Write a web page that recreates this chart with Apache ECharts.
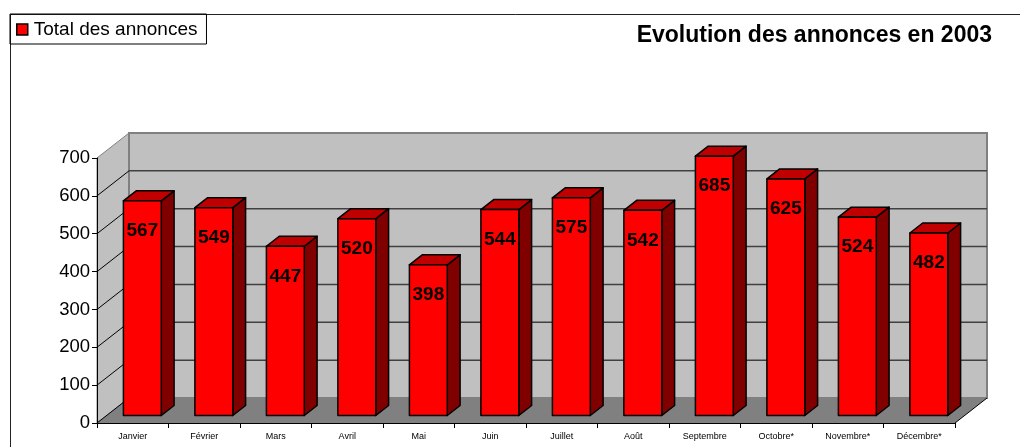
<!DOCTYPE html>
<html>
<head>
<meta charset="utf-8">
<script src="https://cdn.jsdelivr.net/npm/echarts@6/dist/echarts.min.js"></script>
<style>
  html, body { margin: 0; padding: 0; background: #fff; }
  #chart { width: 1020px; height: 447px; }
</style>
</head>
<body>
<div id="chart"></div>
<script>
// données
var categories = ['Janvier', 'Février', 'Mars', 'Avril', 'Mai', 'Juin', 'Juillet', 'Août', 'Septembre', 'Octobre*', 'Novembre*', 'Décembre*'];
var totals = [567, 549, 447, 520, 398, 544, 575, 542, 685, 625, 524, 482];
var yTicks = [0, 100, 200, 300, 400, 500, 600, 700];

var FONT = 'Liberation Sans, Arial, sans-serif';
// profondeur de la boite 3D (px)
var DX = 32, DY = 25;
// position de la barre dans la profondeur
var F1 = 0.3, F2 = 0.7;

var chart = echarts.init(document.getElementById('chart'));

// murs + sol + lignes de grille
function renderWalls(params, api) {
	var cs = params.coordSys;
	var L = cs.x, R = cs.x + cs.width, T = cs.y, B = cs.y + cs.height;
	var children = [];
	// mur gauche
	children.push({ type: 'polygon', shape: { points: [[L, B], [L, T], [L + DX, T - DY], [L + DX, B - DY]] },
		style: { fill: '#c0c0c0', stroke: '#808080', lineWidth: 1 } });
	// mur du fond
	children.push({ type: 'rect', shape: { x: L + DX, y: T - DY, width: R - L, height: B - T },
		style: { fill: '#c0c0c0', stroke: '#808080', lineWidth: 2 } });
	// lignes
	for (var i = 1; i < yTicks.length - 1; i++) {
		var y = api.coord([0, yTicks[i]])[1];
		children.push({ type: 'line', shape: { x1: L + DX, y1: y - DY, x2: R + DX, y2: y - DY },
			style: { stroke: '#404040', lineWidth: 1.5 } });
		children.push({ type: 'line', shape: { x1: L, y1: y, x2: L + DX, y2: y - DY },
			style: { stroke: '#000', lineWidth: 1 } });
	}
	// sol
	children.push({ type: 'polygon', shape: { points: [[L, B], [R, B], [R + DX, B - DY], [L + DX, B - DY]] },
		style: { fill: '#808080' } });
	children.push({ type: 'line', shape: { x1: R, y1: B, x2: R + DX, y2: B - DY },
		style: { stroke: '#000', lineWidth: 1 } });
	children.push({ type: 'line', shape: { x1: L, y1: B, x2: L + DX, y2: B - DY },
		style: { stroke: '#000', lineWidth: 1 } });
	return { type: 'group', children: children };
}

function renderBar(params, api) {
	var idx = api.value(0);
	var val = api.value(1);
	var base = api.coord([idx, 0]);
	var top = api.coord([idx, val]);
	var cw = api.size([1, 0])[0];
	var bw = cw * 0.53;
	var x0 = base[0] - bw / 2 + F1 * DX;
	var x1 = x0 + bw;
	var yb = base[1] - F1 * DY;
	var yt = top[1] - F1 * DY;
	var dx = (F2 - F1) * DX, dy = (F2 - F1) * DY;
	var line = { stroke: '#000', lineWidth: 1.5, lineJoin: 'round' };
	return {
		type: 'group',
		children: [
			{ type: 'polygon', shape: { points: [[x1, yt], [x1 + dx, yt - dy], [x1 + dx, yb - dy], [x1, yb]] },
				style: Object.assign({ fill: '#800000' }, line) },
			{ type: 'polygon', shape: { points: [[x0, yt], [x1, yt], [x1 + dx, yt - dy], [x0 + dx, yt - dy]] },
				style: Object.assign({ fill: '#c00000' }, line) },
			{ type: 'rect', shape: { x: x0, y: yt, width: bw, height: yb - yt },
				style: Object.assign({ fill: '#ff0000' }, line) },
			{ type: 'text', x: (x0 + x1) / 2, y: yt + 30,
				style: { text: String(val), fill: '#000', font: 'bold 19px ' + FONT, align: 'center', verticalAlign: 'middle' } }
		]
	};
}

var option = {
	animation: false,
	title: {
		text: 'Evolution des annonces en 2003',
		right: 28,
		top: 24,
		padding: 0,
		textStyle: { fontFamily: FONT, fontSize: 23, fontWeight: 'bold', color: '#000' }
	},
	legend: {
		left: 10,
		top: 14,
		padding: [6, 9, 5, 6],
		borderColor: '#000',
		borderWidth: 1,
		icon: 'rect',
		itemWidth: 11,
		itemHeight: 11,
		itemGap: 0,
		textStyle: { fontFamily: FONT, fontSize: 19, color: '#000', padding: [0, 0, 0, 1] },
		data: [{ name: 'Total des annonces', itemStyle: { color: '#ff0000', borderColor: '#000', borderWidth: 1.5 } }]
	},
	graphic: [{
		type: 'rect',
		shape: { x: 10.5, y: 14.5, width: 1030, height: 460 },
		style: { fill: 'none', stroke: '#222', lineWidth: 1 },
		silent: true, z: -10
	}],
	grid: { left: 97, right: 65, top: 158, bottom: 24 },
	xAxis: {
		type: 'category',
		data: categories,
		axisLine: { lineStyle: { color: '#000', width: 1 } },
		axisTick: { show: true, length: 5, lineStyle: { color: '#000' } },
		axisLabel: { fontFamily: FONT, fontSize: 9, color: '#000', margin: 9, interval: 0 },
		z: 5
	},
	yAxis: {
		type: 'value',
		min: 0,
		max: 700,
		interval: 100,
		axisLine: { show: true, lineStyle: { color: '#000', width: 1 } },
		axisTick: { show: true, length: 5, lineStyle: { color: '#000' } },
		axisLabel: { fontFamily: FONT, fontSize: 18.5, color: '#000', margin: 7 },
		splitLine: { show: false },
		z: 5
	},
	series: [
		{
			type: 'custom',
			name: 'walls',
			renderItem: renderWalls,
			data: [[0, 0]],
			silent: true,
			z: 1
		},
		{
			type: 'custom',
			name: 'Total des annonces',
			renderItem: renderBar,
			itemStyle: { color: '#ff0000' },
			data: totals.map(function (v, i) { return [i, v]; }),
			z: 3
		}
	]
};

chart.setOption(option);
</script>
</body>
</html>
